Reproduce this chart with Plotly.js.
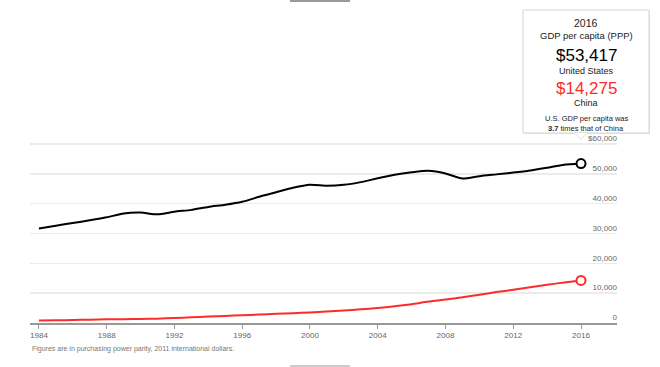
<!DOCTYPE html>
<html>
<head>
<meta charset="utf-8">
<script src="https://cdn.plot.ly/plotly-3.0.1.min.js"></script>
<style>html,body{margin:0;padding:0;background:#fff;}#chart{width:660px;height:367px;}</style>
</head>
<body>
<div id="chart"></div>
<script>
const years = [1984,1985,1986,1987,1988,1989,1990,1991,1992,1993,1994,1995,1996,1997,1998,1999,2000,2001,2002,2003,2004,2005,2006,2007,2008,2009,2010,2011,2012,2013,2014,2015,2016];
const usGdp = [31700,32600,33500,34400,35400,36700,37000,36400,37300,37900,38900,39600,40600,42300,43800,45300,46300,46000,46300,47200,48500,49700,50500,51000,50100,48400,49200,49800,50400,51100,52000,53000,53417];
const chinaGdp = [830,910,990,1110,1230,1280,1330,1450,1660,1890,2140,2370,2600,2840,3060,3290,3550,3830,4160,4570,5030,5600,6300,7190,7870,8590,9480,10350,11140,11980,12810,13570,14275];
const yTickVals = [0,10000,20000,30000,40000,50000,60000];
const yTickText = ['0','10,000','20,000','30,000','40,000','50,000','$60,000'];
const xTickVals = [1984,1988,1992,1996,2000,2004,2008,2012,2016];
const footnote = 'Figures are in purchasing power parity, 2011 international dollars.';

const W = 660, H = 367;
// pixel geometry: y=0 at 323px, y=60000 at 144px
const yZeroPx = 323, yTopValPx = 144, yMaxVal = 65000;
const pxPerUnit = (yZeroPx - yTopValPx) / 60000;
const mL = 30, mR = 43, mB = H - yZeroPx;
const mT = Math.round(yZeroPx - yMaxVal * pxPerUnit);
const pw = W - mL - mR, ph = H - mT - mB;
const px = x => (x - mL) / pw;
const py = y => (H - mB - y) / ph;

const n = years.length - 1;
const lastYear = years[n], usLast = usGdp[n], cnLast = chinaGdp[n];
const fmt = v => '$' + v.toLocaleString('en-US');
const ratio = (usLast / cnLast).toFixed(1);

const FONT = 'Liberation Sans, Arial, sans-serif';

const traces = [
  {x: years, y: chinaGdp, mode: 'lines', line: {color: '#ff2a2a', width: 2, shape: 'spline', smoothing: 0.6}, hoverinfo: 'skip'},
  {x: years, y: usGdp, mode: 'lines', line: {color: '#000', width: 2, shape: 'spline', smoothing: 0.6}, hoverinfo: 'skip'},
  {x: [lastYear], y: [cnLast], mode: 'markers', marker: {size: 9, color: '#fff', line: {color: '#ff2a2a', width: 2}}, hoverinfo: 'skip'},
  {x: [lastYear], y: [usLast], mode: 'markers', marker: {size: 9, color: '#fff', line: {color: '#000', width: 2}}, hoverinfo: 'skip'}
];

const bx0 = 523, bx1 = 649, by0 = 10, by1 = 133, tipX = 581;
const shapes = [
  {type: 'line', xref: 'paper', yref: 'paper', x0: px(290), x1: px(350), y0: py(1), y1: py(1), line: {color: '#999', width: 2}},
  {type: 'line', xref: 'paper', yref: 'paper', x0: px(290), x1: px(350), y0: py(366), y1: py(366), line: {color: '#999', width: 1}},
  {type: 'rect', xref: 'paper', yref: 'paper', x0: px(bx0+1), x1: px(bx1+1), y0: py(by0+1), y1: py(by1+1), fillcolor: '#e6e6e6', line: {width: 0}, layer: 'above'},
  {type: 'rect', xref: 'paper', yref: 'paper', x0: px(bx0), x1: px(bx1), y0: py(by0), y1: py(by1), fillcolor: '#fff', line: {color: '#d4d4d4', width: 1}, layer: 'above'},
  {type: 'path', xref: 'paper', yref: 'paper', layer: 'above',
   path: `M ${px(tipX-7)} ${py(by1-0.5)} L ${px(tipX)} ${py(by1+6)} L ${px(tipX+7)} ${py(by1-0.5)} Z`,
   fillcolor: '#fff', line: {color: '#e0e0e0', width: 1}}
];

const cx = px((bx0 + bx1) / 2);
const ann = (text, y, size, color) => ({xref: 'paper', yref: 'paper', x: cx, y: py(y), text: text, showarrow: false,
  xanchor: 'center', yanchor: 'middle', font: {family: FONT, size: size, color: color}});

const annotations = [
  ann(String(lastYear), 23, 10.5, '#222'),
  ann('GDP per capita (PPP)', 36, 9.5, '#222'),
  ann(fmt(usLast), 55, 17, '#000'),
  ann('United States', 71, 9, '#222'),
  ann(fmt(cnLast), 88, 17, '#ff2a2a'),
  ann('China', 103, 9, '#222'),
  ann('U.S. GDP per capita was', 118, 7.5, '#222'),
  ann('<b>' + ratio + '</b> times that of China', 128, 7.5, '#222'),
  {xref: 'paper', yref: 'paper', x: 0, y: py(349), text: footnote, showarrow: false, xanchor: 'left', yanchor: 'middle',
   font: {family: FONT, size: 7, color: '#777'}}
];

const layout = {
  width: W, height: H,
  margin: {l: mL, r: mR, t: mT, b: mB, pad: 0},
  paper_bgcolor: 'rgba(0,0,0,0)', plot_bgcolor: 'rgba(0,0,0,0)',
  showlegend: false,
  font: {family: FONT},
  xaxis: {
    range: [lastYear - (581 - 30) / 16.94, lastYear + (617 - 581) / 16.94],
    tickvals: xTickVals, ticktext: xTickVals.map(String),
    ticks: 'outside', ticklen: 4, tickcolor: '#999', tickwidth: 1,
    showline: true, linecolor: '#999', linewidth: 1.5,
    showgrid: false, zeroline: false,
    tickfont: {family: FONT, size: 8, color: '#666'}
  },
  yaxis: {
    range: [0, yMaxVal], side: 'right',
    tickvals: yTickVals, ticktext: yTickText,
    ticklabelposition: 'inside top',
    ticklabelstandoff: -3,
    showgrid: true, gridcolor: '#ebebeb', gridwidth: 1.5,
    zeroline: false, showline: false, ticks: '',
    tickfont: {family: FONT, size: 8, color: '#666'}
  },
  shapes: shapes,
  annotations: annotations
};

Plotly.newPlot('chart', traces, layout, {displayModeBar: false, staticPlot: true});
</script>
</body>
</html>
